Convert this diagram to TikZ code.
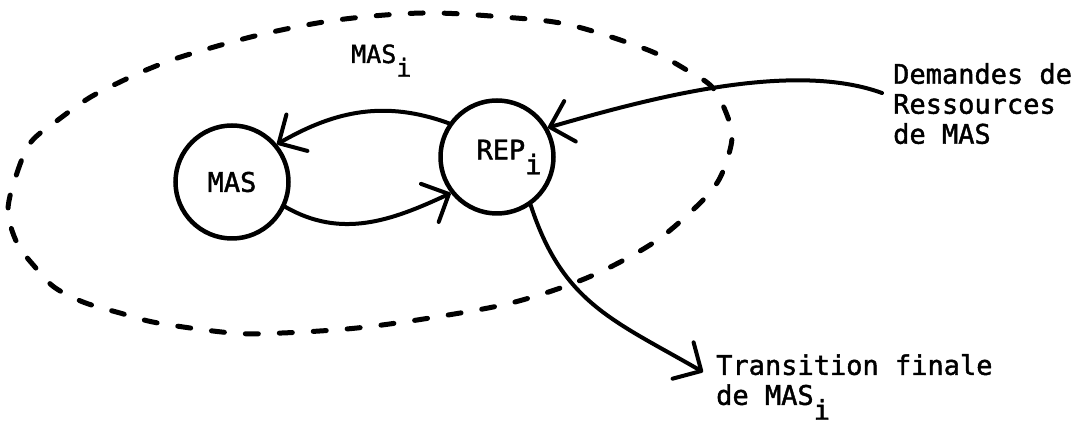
\documentclass[tikz,border=0pt]{standalone}
\usepackage{fontspec}
\newfontfamily\diagfont[FakeBold=1.5]{DejaVu Sans Mono}
\usetikzlibrary{arrows.meta}
\newcommand{\lowi}{\raisebox{-0.55em}{i}}
\begin{document}
\begin{tikzpicture}[x=1pt,y=1pt,
  state/.style={circle,draw,line width=4.5pt,minimum size=113pt,inner sep=0pt,
    font=\diagfont\fontsize{27}{27}\selectfont},
  arr/.style={line width=4pt,line cap=round,
    -{Straight Barb[length=21pt,width=42pt,round]}},
  lbl/.style={inner sep=0pt,align=left,font=\diagfont\fontsize{27}{30}\selectfont},
  ilbl/.style={inner sep=0pt,font=\diagfont\fontsize{25}{25}\selectfont},
  boundary/.style={line width=5pt,line cap=round,dash pattern=on 13pt off 21pt}]
\useasboundingbox (0,0) rectangle (1088,428);
\fill[white] (0,0) rectangle (1088,428);
% dashed boundary of MAS_i
\draw[boundary] plot[smooth cycle,tension=0.55] coordinates {
  (8,218) (17,255) (31,286) (58,308) (89,330) (120,346) (151,360) (187,373)
  (259,393) (337,408) (423,415) (503,411) (570,403) (648,378) (690,356)
  (713,340) (727,313) (732,291) (727,268) (717,245) (696,221) (653,185)
  (589,151) (515,126) (436,111) (357,100) (282,95) (232,95) (158,105)
  (120,115) (83,126) (54,141) (35,161) (17,185)};
\node[ilbl,anchor=base west] (masi) at (351,365) {MAS\lowi};
\node[state] (MAS) at (232,246) {MAS};
\node[state] (REP) at (497,271) {\hspace*{24pt}REP\lowi};
\coordinate (dem) at (882,335);
\coordinate (tr) at (703,56);
\node[lbl,anchor=north west] (demt) at (893,365) {Demandes de\\Ressources\\de MAS};
\node[lbl,anchor=north west] (trt) at (716,74) {Transition finale\\de MAS\lowi};
\draw[arr] (REP.145) to[out=160,in=30] (MAS.40);
\draw[arr] (MAS.-25) to[out=-30,in=205] (REP.218);
\draw[arr] (dem) to[out=160,in=16,looseness=0.75] (REP.30);
\draw[arr] (REP.-55) to[out=-72,in=150,looseness=1.1] (tr);
\end{tikzpicture}
\end{document}
